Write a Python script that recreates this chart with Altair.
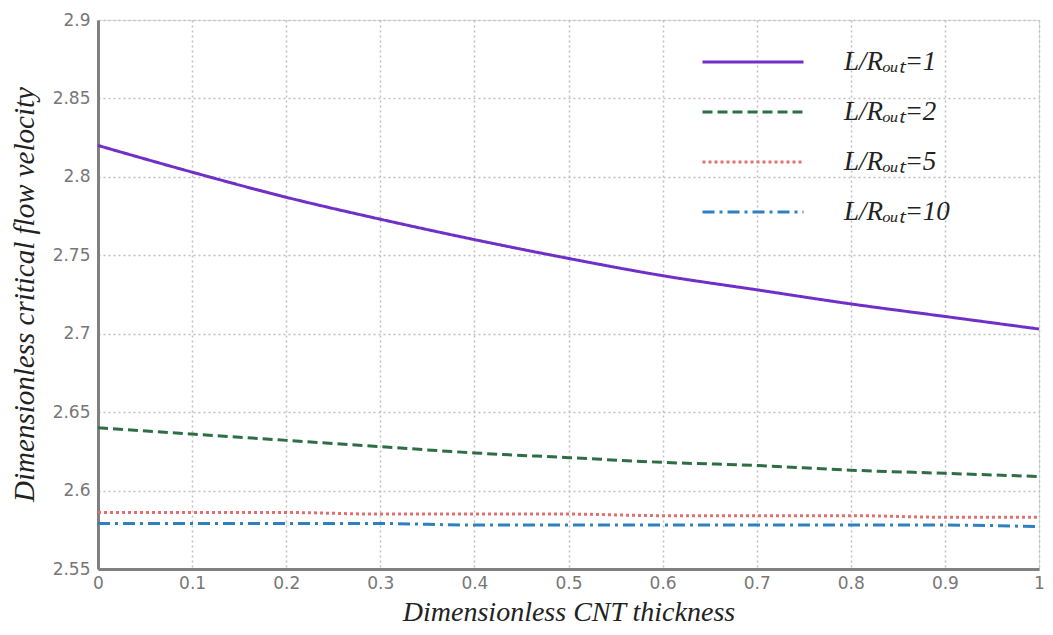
import altair as alt
import pandas as pd

x_vals = [0.0, 0.1, 0.2, 0.3, 0.4, 0.5, 0.6, 0.7, 0.8, 0.9, 1.0]
s1 = [2.820, 2.803, 2.787, 2.773, 2.760, 2.748, 2.737, 2.728, 2.719, 2.711, 2.703]
s2 = [2.640, 2.636, 2.632, 2.628, 2.624, 2.621, 2.618, 2.616, 2.613, 2.611, 2.609]
s3 = [2.586, 2.586, 2.586, 2.585, 2.585, 2.585, 2.584, 2.584, 2.584, 2.583, 2.583]
s4 = [2.579, 2.579, 2.579, 2.579, 2.578, 2.578, 2.578, 2.578, 2.578, 2.578, 2.577]
series_names = ["L/R\u2092\u1d64\u209c=1", "L/R\u2092\u1d64\u209c=2", "L/R\u2092\u1d64\u209c=5", "L/R\u2092\u1d64\u209c=10"]
x_ticks = [0, 0.1, 0.2, 0.3, 0.4, 0.5, 0.6, 0.7, 0.8, 0.9, 1]
y_ticks = [2.55, 2.6, 2.65, 2.7, 2.75, 2.8, 2.85, 2.9]

colors = ["#7030c8", "#2d6e45", "#e07070", "#2f80c0"]
dashes = [[1, 0], [10, 5], [3, 3], [12, 5, 3, 5]]

rows = []
for name, ys in zip(series_names, [s1, s2, s3, s4]):
    for xv, yv in zip(x_vals, ys):
        rows.append({"t": xv, "v": yv, "s": name})
df = pd.DataFrame(rows)

serif = "Liberation Serif"
sans = "DejaVu Sans"


def make_legend():
    return alt.Legend(title=None, orient="none", legendX=603, legendY=25,
                      symbolType="stroke", symbolSize=10201, symbolStrokeWidth=3,
                      labelFont=serif, labelFontStyle="italic", labelFontSize=27,
                      labelColor="#222", labelOffset=39, clipHeight=34, rowPadding=16)


chart = alt.Chart(df).mark_line(strokeWidth=3, interpolate="monotone").encode(
    x=alt.X("t:Q", scale=alt.Scale(domain=[0, 1], nice=False),
            axis=alt.Axis(values=x_ticks, format="~g", title="Dimensionless CNT thickness",
                          titleFont=serif, titleFontStyle="italic", titleFontWeight="normal",
                          titleFontSize=28, titleColor="#222", titleBaseline="alphabetic",
                          titleY=51, labelFont=sans, labelFontSize=17, labelColor="#777",
                          labelPadding=6, ticks=False, domainColor="#808080", domainWidth=3,
                          grid=True, gridColor="#c0c0c0", gridDash=[2, 3], gridWidth=1.5,
                          labelFlush=False, labelOverlap=False)),
    y=alt.Y("v:Q", scale=alt.Scale(domain=[2.55, 2.9], nice=False, zero=False),
            axis=alt.Axis(values=y_ticks, format="~g", title="Dimensionless critical flow velocity",
                          titleFont=serif, titleFontStyle="italic", titleFontWeight="normal",
                          titleFontSize=29, titleColor="#222", titleBaseline="alphabetic",
                          titleX=-65, titleY=274, labelFont=sans, labelFontSize=17, labelColor="#777",
                          labelPadding=8, ticks=False, domainColor="#808080", domainWidth=3,
                          grid=True, gridColor="#c0c0c0", gridDash=[2, 3], gridWidth=1.5,
                          labelFlush=False, labelOverlap=False)),
    color=alt.Color("s:N", scale=alt.Scale(domain=series_names, range=colors),
                    legend=make_legend()),
    strokeDash=alt.StrokeDash("s:N", scale=alt.Scale(domain=series_names, range=dashes),
                              legend=make_legend()),
).properties(
    width=941, height=549,
    autosize=alt.AutoSizeParams(type="none"),
    padding={"left": 90, "top": 12, "right": 6, "bottom": 58},
).configure_view(stroke="#888", strokeWidth=2).configure(background="white")

chart.save("out.html", embed_options={"renderer": "svg", "actions": False})
